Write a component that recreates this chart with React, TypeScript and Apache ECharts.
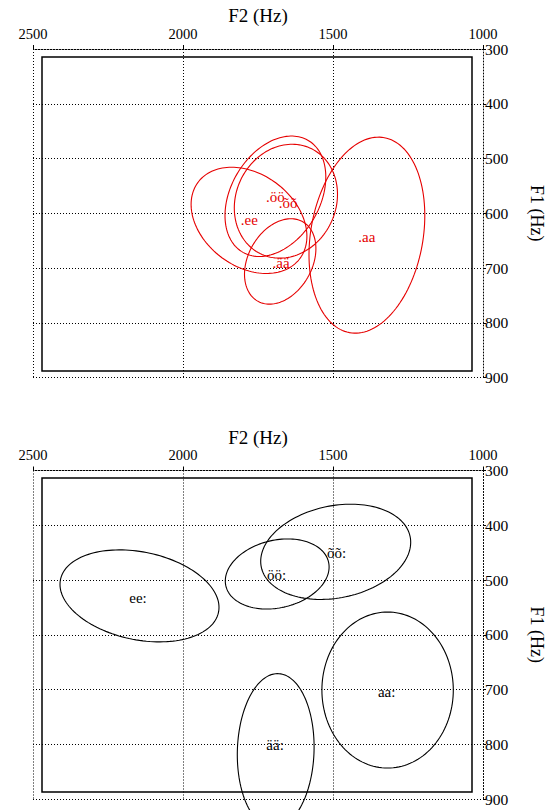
import React, { useEffect, useRef } from 'react';
import * as echarts from 'echarts';

const SERIF = 'Liberation Serif';

// Top panel (red)
const topNames = ['.ee', '.öö', '.õõ', '.ää', '.aa'];
const topCenterF2 = [1780, 1692, 1657, 1676, 1387];
const topCenterF1 = [613, 569, 578, 688, 640];
const topSpreadF2 = [193, 168, 172, 119, 193];
const topSpreadF1 = [97, 110, 104, 78, 179];
const topCorr = [-0.3, 0.32, 0.12, 0.3, 0.2];
const topLabelF2 = [1779, 1692, 1650, 1673, 1387];
const topLabelF1 = [612, 570, 582, 690, 643];

// Bottom panel (black)
const bottomNames = ['ee:', 'öö:', 'õõ:', 'ää:', 'aa:'];
const bottomCenterF2 = [2145, 1686, 1491, 1691, 1318];
const bottomCenterF1 = [529, 489, 448.5, 812, 701];
const bottomSpreadF2 = [265, 173, 250, 128, 219];
const bottomSpreadF1 = [84, 64, 87, 141, 142.5];
const bottomCorr = [-0.25, 0.2, 0.2, 0.05, 0];
const bottomLabelF2 = [2150, 1688, 1488, 1693, 1321];
const bottomLabelF1 = [533, 491, 451, 801, 704];

const F2_MIN = 1000;
const F2_MAX = 2500;
const F2_STEP = 500;
const F1_MIN = 300;
const F1_MAX = 900;
const F1_STEP = 100;

const buildRows = (c2: number[], c1: number[], s2: number[], s1: number[], r: number[], l2: number[], l1: number[]) =>
  c2.map((v, i) => [v, c1[i], s2[i], s1[i], r[i], l2[i], l1[i]]);

const makeRender = (names: string[], color: string) => (params: any, api: any) => {
  const c2 = api.value(0);
  const c1 = api.value(1);
  const s2 = api.value(2);
  const s1 = api.value(3);
  const r = api.value(4);
  const l2 = api.value(5);
  const l1 = api.value(6);
  const q = Math.sqrt(1 - r * r);
  const pts: number[][] = [];
  const N = 144;
  for (let k = 0; k < N; k++) {
    const t = (2 * Math.PI * k) / N;
    pts.push(api.coord([c2 + s2 * Math.cos(t), c1 + s1 * (r * Math.cos(t) + q * Math.sin(t))]));
  }
  const lp = api.coord([l2, l1]);
  return {
    type: 'group',
    children: [
      { type: 'polygon', shape: { points: pts }, style: { fill: 'none', stroke: color, lineWidth: 1.1 } },
      {
        type: 'text',
        x: lp[0],
        y: lp[1],
        style: {
          text: names[params.dataIndex],
          fill: color,
          font: '15px ' + SERIF,
          align: 'center',
          verticalAlign: 'middle',
        },
      },
    ],
  };
};

const dotted = { color: '#000', width: 1, type: [1, 2] as any };

const xAxisFor = (gridIndex: number) => ({
  type: 'value',
  gridIndex,
  min: F2_MIN,
  max: F2_MAX,
  interval: F2_STEP,
  inverse: true,
  position: 'top',
  name: 'F2 (Hz)',
  nameLocation: 'middle',
  nameGap: 22,
  nameTextStyle: { fontFamily: SERIF, fontSize: 19, color: '#000' },
  axisLine: { show: true, onZero: false, lineStyle: dotted },
  axisTick: { show: true, length: 4, lineStyle: { color: '#000', width: 1 } },
  axisLabel: { fontFamily: SERIF, fontSize: 14.5, color: '#000', margin: 8, formatter: (v: number) => String(v) },
  splitLine: { show: true, lineStyle: dotted },
});

const yAxisFor = (gridIndex: number) => ({
  type: 'value',
  gridIndex,
  min: F1_MIN,
  max: F1_MAX,
  interval: F1_STEP,
  inverse: true,
  position: 'right',
  name: 'F1 (Hz)',
  nameLocation: 'middle',
  nameRotate: -90,
  nameGap: 45,
  nameTextStyle: { fontFamily: SERIF, fontSize: 18, color: '#000' },
  axisLine: { show: true, onZero: false, lineStyle: dotted },
  axisTick: { show: true, length: 3, lineStyle: { color: '#000', width: 1 } },
  axisLabel: { fontFamily: SERIF, fontSize: 15.5, color: '#000', margin: 2, formatter: (v: number) => String(v) },
  splitLine: { show: true, lineStyle: dotted },
});

export default function App() {
  const ref = useRef<HTMLDivElement>(null);
  useEffect(() => {
    const chart = echarts.init(ref.current as HTMLDivElement, null, { renderer: 'svg' });
    const option: any = {
      animation: false,
      backgroundColor: '#fff',
      textStyle: { fontFamily: SERIF },
      grid: [
        { left: 33, top: 49, width: 450, height: 328.5, containLabel: false, outerBoundsMode: 'none' },
        { left: 33, top: 470.5, width: 450, height: 328.5, containLabel: false, outerBoundsMode: 'none' },
      ],
      xAxis: [xAxisFor(0), xAxisFor(1)],
      yAxis: [yAxisFor(0), yAxisFor(1)],
      graphic: [
        { type: 'rect', shape: { x: 42, y: 57, width: 430, height: 314 }, style: { fill: 'none', stroke: '#000', lineWidth: 1.5 }, z: 1 },
        { type: 'rect', shape: { x: 42, y: 478, width: 430, height: 314 }, style: { fill: 'none', stroke: '#000', lineWidth: 1.5 }, z: 1 },
      ],
      series: [
        {
          type: 'custom',
          xAxisIndex: 0,
          yAxisIndex: 0,
          clip: false,
          encode: { x: 0, y: 1 },
          renderItem: makeRender(topNames, '#e60000'),
          data: buildRows(topCenterF2, topCenterF1, topSpreadF2, topSpreadF1, topCorr, topLabelF2, topLabelF1),
          z: 5,
        },
        {
          type: 'custom',
          xAxisIndex: 1,
          yAxisIndex: 1,
          clip: false,
          encode: { x: 0, y: 1 },
          renderItem: makeRender(bottomNames, '#000'),
          data: buildRows(bottomCenterF2, bottomCenterF1, bottomSpreadF2, bottomSpreadF1, bottomCorr, bottomLabelF2, bottomLabelF1),
          z: 5,
        },
      ],
    };
    chart.setOption(option);
    return () => chart.dispose();
  }, []);
  return <div ref={ref} style={{ position: 'fixed', left: 0, top: 0, width: 552, height: 810 }} />;
}
